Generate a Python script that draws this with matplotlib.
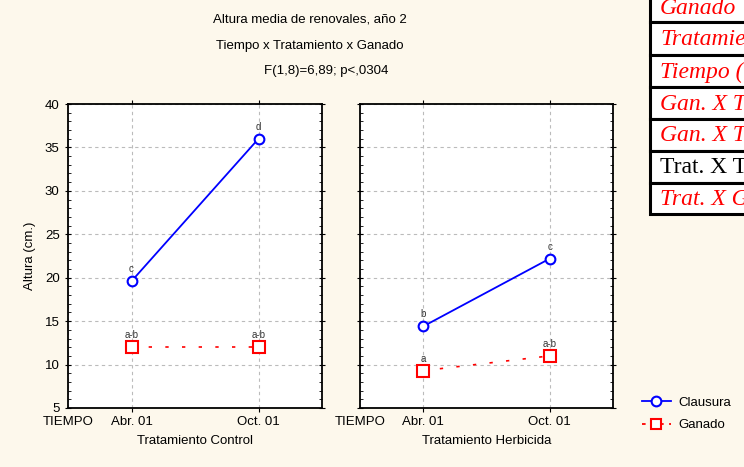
import numpy as np
import matplotlib.pyplot as plt
from matplotlib.lines import Line2D
from matplotlib.patches import Rectangle

plt.rcParams['font.family'] = ['Liberation Sans', 'DejaVu Sans']

tiempo = ["Abr. 01", "Oct. 01"]
x_pos = [0, 1]
# Altura media (cm) por panel
control_clausura = [19.6, 36.0]
control_ganado = [12.0, 12.0]
herb_clausura = [14.4, 22.2]
herb_ganado = [9.3, 11.0]
# letras de significancia
control_clausura_lbl = ["c", "d"]
control_ganado_lbl = ["a-b", "a-b"]
herb_clausura_lbl = ["b", "c"]
herb_ganado_lbl = ["a", "a-b"]
yticks = [5, 10, 15, 20, 25, 30, 35, 40]
table_rows = ["Ganado", "Tratamiento", "Tiempo (T)", "Gan. X Trat.", "Gan. X Tiempo",
              "Trat. X Tiempo", "Trat. X Gan. X T"]
table_red = [True, True, True, True, True, False, True]

bg = '#fdf8ec'
fs = 9.5
fig = plt.figure(figsize=(7.44, 4.67), dpi=100, facecolor=bg)

ax1 = fig.add_axes([68/744, 1-408/467, 254/744, 304/467])
ax2 = fig.add_axes([360/744, 1-408/467, 253/744, 304/467])

panels = [(ax1, control_clausura, control_ganado, control_clausura_lbl, control_ganado_lbl, "Tratamiento Control"),
          (ax2, herb_clausura, herb_ganado, herb_clausura_lbl, herb_ganado_lbl, "Tratamiento Herbicida")]

for ax, cl, ga, cl_lbl, ga_lbl, xlab in panels:
    ax.set_facecolor('white')
    ax.plot(x_pos, cl, color='#0000ff', lw=1.3, marker='o', ms=7, mfc='white',
            mec='#0000ff', mew=1.5, zorder=3)
    ax.plot(x_pos, ga, color='#ff0000', lw=1.2, dashes=(2, 8), marker='s', ms=8,
            mfc='white', mec='#ff0000', mew=1.5, zorder=3)
    for xi, yi, t in zip(x_pos, cl, cl_lbl):
        ax.annotate(t, (xi, yi), xytext=(0, 5), textcoords='offset points',
                    ha='center', va='bottom', fontsize=7, color='#333333')
    for xi, yi, t in zip(x_pos, ga, ga_lbl):
        ax.annotate(t, (xi, yi), xytext=(0, 5), textcoords='offset points',
                    ha='center', va='bottom', fontsize=7, color='#333333')
    ax.set_xlim(-0.5, 1.5)
    ax.set_ylim(5, 40)
    ax.set_xticks([-0.5] + x_pos)
    ax.set_xticklabels(["TIEMPO"] + tiempo, fontsize=fs)
    ax.set_yticks(yticks)
    ax.set_yticks(np.arange(5, 41, 1), minor=True)
    ax.tick_params(axis='x', direction='out', length=3, top=True, bottom=True, pad=3)
    ax.tick_params(axis='y', which='major', direction='inout', length=5, left=True, right=True)
    ax.tick_params(axis='y', which='minor', direction='in', length=2.5, left=True, right=True)
    ax.xaxis.get_major_ticks()[0].tick1line.set_visible(False)
    ax.xaxis.get_major_ticks()[0].tick2line.set_visible(False)
    ax.grid(True, which='major', color='#bbbbbb', lw=0.8, ls=(0, (3, 3)))
    ax.set_xlabel(xlab, fontsize=fs, labelpad=5)
    for s in ax.spines.values():
        s.set_linewidth(1.3)

ax1.set_yticklabels([str(v) for v in yticks], fontsize=fs)
ax1.set_ylabel("Altura (cm.)", fontsize=fs, labelpad=6)
ax2.set_yticklabels([])

fig.text(310/744, 1-20/467, "Altura media de renovales, año 2", ha='center', va='center', fontsize=fs)
fig.text(310/744, 1-46/467, "Tiempo x Tratamiento x Ganado", ha='center', va='center', fontsize=fs)
fig.text(326/744, 1-71/467, "F(1,8)=6,89; p<,0304", ha='center', va='center', fontsize=fs)

handles = [Line2D([], [], color='#0000ff', lw=1.3, marker='o', ms=7, mfc='white', mec='#0000ff', mew=1.5),
           Line2D([], [], color='#ff0000', lw=1.3, dashes=(2, 3), marker='s', ms=7, mfc='white', mec='#ff0000', mew=1.5)]
fig.legend(handles, ["Clausura", "Ganado"], loc='upper left', bbox_to_anchor=(630/744, 1-385/467),
           frameon=False, fontsize=fs, handlelength=2.2, labelspacing=0.75, handletextpad=0.6)

# tabla recortada arriba a la derecha
row_edges = [-10, 22, 55, 87, 119, 151, 183, 214]
for i, (txt, red) in enumerate(zip(table_rows, table_red)):
    top, bot = row_edges[i], row_edges[i + 1]
    fig.patches.append(Rectangle((650/744, 1-bot/467), 200/744, (bot-top)/467,
                                 transform=fig.transFigure, facecolor='white',
                                 edgecolor='black', lw=2.2, zorder=1))
    yc = (top + bot) / 2 + 1 if i > 0 else 8
    fig.text(660/744, 1-yc/467, txt, ha='left', va='center',
             family='Liberation Serif', fontsize=17,
             style='italic' if red else 'normal',
             color='#ff0000' if red else 'black', zorder=2)

fig.savefig("out.png", dpi=100, facecolor=bg)
